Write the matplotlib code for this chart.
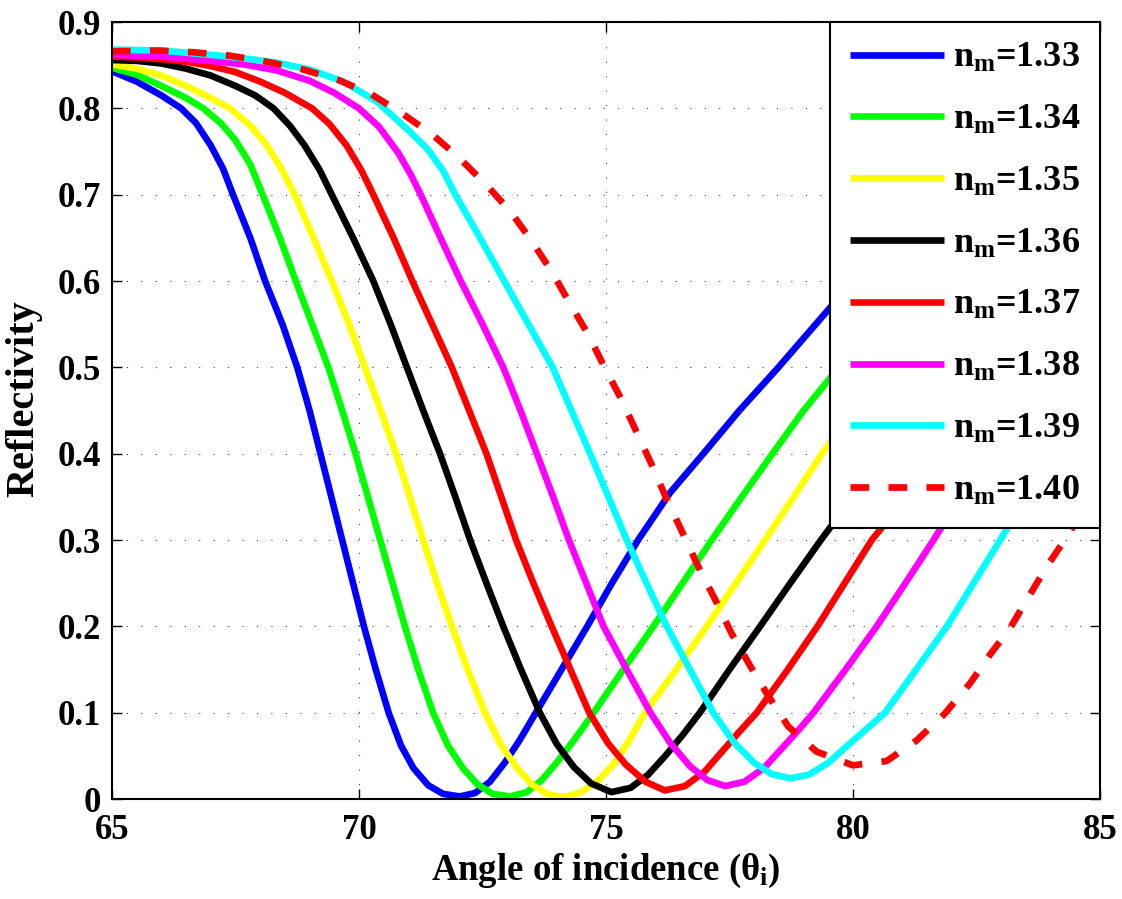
import matplotlib
matplotlib.use('Agg')
import matplotlib.pyplot as plt

plt.rcParams['font.family'] = ['Liberation Serif', 'DejaVu Serif']
plt.rcParams['font.weight'] = 'bold'
plt.rcParams['mathtext.fontset'] = 'custom'
plt.rcParams['mathtext.rm'] = 'Liberation Serif:bold'
plt.rcParams['mathtext.it'] = 'Liberation Serif:bold'
plt.rcParams['mathtext.bf'] = 'Liberation Serif:bold'

# reflectivity curves, one per medium index n_m
ang_133 = [65.0, 65.5, 66.0, 66.4, 66.7, 67.0, 67.25, 67.45, 67.8, 68.1, 68.45, 68.75, 69.0, 69.22,
           69.44, 69.66, 69.88, 70.1, 70.34, 70.6, 70.85, 71.1, 71.4, 71.7, 72.04, 72.35, 72.65,
           72.95, 73.25, 73.58, 74.1, 74.62, 75.12, 75.65, 76.3, 76.97, 77.7, 78.49, 79.67, 80.5,
           81.5, 82.5, 83.5, 84.3, 85.0]
ref_133 = [0.843, 0.831, 0.815, 0.800, 0.783, 0.757, 0.730, 0.700, 0.650, 0.600, 0.550, 0.500,
           0.450, 0.400, 0.350, 0.300, 0.250, 0.200, 0.150, 0.100, 0.062, 0.036, 0.016, 0.006,
           0.003, 0.007, 0.020, 0.042, 0.068, 0.100, 0.150, 0.200, 0.250, 0.300, 0.355, 0.400,
           0.450, 0.500, 0.578, 0.620, 0.668, 0.708, 0.745, 0.770, 0.793]

ang_134 = [65.0, 65.5, 66.0, 66.5, 66.85, 67.2, 67.5, 67.8, 68.05, 68.4, 68.72, 69.05, 69.38, 69.66,
           69.93, 70.18, 70.43, 70.68, 70.93, 71.2, 71.5, 71.8, 72.1, 72.4, 72.7, 73.06, 73.4, 73.7,
           74.0, 74.35, 74.75, 75.35, 75.96, 76.55, 77.14, 77.75, 78.37, 79.0, 79.67, 80.5, 81.5,
           82.5, 83.5, 84.3, 85.0]
ref_134 = [0.847, 0.839, 0.826, 0.812, 0.800, 0.783, 0.763, 0.735, 0.700, 0.650, 0.600, 0.550,
           0.500, 0.450, 0.400, 0.350, 0.300, 0.250, 0.200, 0.150, 0.100, 0.062, 0.036, 0.017,
           0.006, 0.003, 0.008, 0.022, 0.042, 0.068, 0.100, 0.150, 0.200, 0.250, 0.300, 0.350,
           0.400, 0.450, 0.497, 0.545, 0.598, 0.645, 0.688, 0.718, 0.743]

ang_135 = [65.0, 65.5, 66.0, 66.5, 67.0, 67.39, 67.8, 68.1, 68.4, 68.7, 69.08, 69.45, 69.8, 70.12,
           70.44, 70.75, 71.03, 71.3, 71.58, 71.88, 72.2, 72.55, 72.88, 73.2, 73.5, 73.8, 74.14,
           74.5, 74.85, 75.15, 75.45, 75.79, 76.42, 77.04, 77.63, 78.22, 78.8, 79.37, 80.0, 81.0,
           82.0, 83.0, 84.0, 85.0]
ref_135 = [0.851, 0.846, 0.838, 0.826, 0.812, 0.800, 0.780, 0.760, 0.733, 0.700, 0.650, 0.600,
           0.550, 0.500, 0.450, 0.400, 0.350, 0.300, 0.250, 0.200, 0.150, 0.100, 0.062, 0.036,
           0.017, 0.006, 0.002, 0.008, 0.022, 0.040, 0.066, 0.100, 0.150, 0.200, 0.250, 0.300,
           0.350, 0.400, 0.450, 0.520, 0.580, 0.630, 0.675, 0.710]

ang_136 = [65.0, 65.5, 66.0, 66.5, 67.0, 67.5, 67.9, 68.27, 68.6, 68.9, 69.2, 69.45, 69.88, 70.29,
           70.64, 70.97, 71.3, 71.64, 71.95, 72.25, 72.58, 72.92, 73.28, 73.66, 74.0, 74.35, 74.7,
           75.11, 75.5, 75.85, 76.2, 76.55, 76.9, 77.5, 78.12, 78.73, 79.35, 79.7, 80.5, 81.5, 82.5,
           83.5, 84.3, 85.0]
ref_136 = [0.856, 0.855, 0.852, 0.846, 0.838, 0.826, 0.815, 0.800, 0.780, 0.757, 0.729, 0.700,
           0.650, 0.600, 0.550, 0.500, 0.450, 0.400, 0.350, 0.300, 0.250, 0.200, 0.150, 0.100,
           0.064, 0.037, 0.018, 0.008, 0.013, 0.028, 0.050, 0.074, 0.100, 0.150, 0.200, 0.250,
           0.300, 0.327, 0.385, 0.455, 0.525, 0.592, 0.643, 0.685]

ang_137 = [65.0, 65.5, 66.0, 66.5, 67.0, 67.5, 68.0, 68.5, 69.05, 69.4, 69.75, 70.05, 70.29, 70.7,
           71.08, 71.48, 71.88, 72.23, 72.58, 72.88, 73.18, 73.53, 73.9, 74.28, 74.66, 75.05, 75.4,
           75.8, 76.19, 76.6, 77.0, 77.35, 77.7, 78.05, 78.68, 79.28, 79.83, 80.38, 80.55, 81.5,
           82.5, 83.5, 84.3, 85.0]
ref_137 = [0.860, 0.859, 0.857, 0.854, 0.849, 0.842, 0.831, 0.818, 0.800, 0.782, 0.757, 0.728,
           0.700, 0.650, 0.600, 0.550, 0.500, 0.450, 0.400, 0.350, 0.300, 0.250, 0.200, 0.150,
           0.100, 0.064, 0.040, 0.020, 0.010, 0.015, 0.032, 0.055, 0.078, 0.100, 0.150, 0.200,
           0.250, 0.300, 0.312, 0.385, 0.460, 0.535, 0.595, 0.650]

ang_138 = [65.0, 66.0, 67.0, 67.66, 68.33, 69.0, 69.5, 70.0, 70.4, 70.8, 71.05, 71.25, 71.65, 72.06,
           72.5, 72.92, 73.27, 73.6, 73.93, 74.25, 74.6, 74.95, 75.42, 75.9, 76.3, 76.7, 77.05,
           77.41, 77.8, 78.2, 78.55, 78.9, 79.2, 79.85, 80.48, 81.06, 81.63, 81.76, 82.5, 83.5,
           84.3, 85.0]
ref_138 = [0.862, 0.860, 0.855, 0.851, 0.844, 0.832, 0.818, 0.800, 0.779, 0.748, 0.723, 0.700,
           0.650, 0.600, 0.550, 0.500, 0.450, 0.400, 0.350, 0.300, 0.250, 0.200, 0.150, 0.100,
           0.065, 0.038, 0.022, 0.015, 0.020, 0.036, 0.058, 0.080, 0.100, 0.150, 0.200, 0.250,
           0.300, 0.312, 0.372, 0.452, 0.518, 0.580]

ang_139 = [65.0, 66.0, 67.0, 67.66, 68.33, 69.0, 69.68, 70.36, 71.03, 71.4, 71.71, 71.95, 72.45,
           72.94, 73.43, 73.92, 74.3, 74.68, 75.05, 75.42, 75.82, 76.23, 76.7, 77.17, 77.6, 78.0,
           78.35, 78.72, 79.1, 79.5, 79.85, 80.25, 80.65, 81.28, 81.9, 82.44, 82.98, 83.5, 84.0,
           84.5, 85.0]
ref_139 = [0.868, 0.867, 0.862, 0.858, 0.853, 0.845, 0.831, 0.808, 0.773, 0.752, 0.727, 0.700,
           0.650, 0.600, 0.550, 0.500, 0.450, 0.400, 0.350, 0.300, 0.250, 0.200, 0.150, 0.100,
           0.065, 0.042, 0.029, 0.024, 0.028, 0.042, 0.060, 0.080, 0.100, 0.150, 0.200, 0.250,
           0.300, 0.350, 0.398, 0.445, 0.488]

ang_140 = [65.0, 65.9, 66.65, 67.39, 68.13, 68.87, 69.58, 70.26, 70.9, 71.5, 72.04, 72.6, 73.06,
           73.5, 73.9, 74.27, 74.64, 74.98, 75.32, 75.62, 75.96, 76.23, 76.57, 76.87, 77.21, 77.54,
           77.91, 78.29, 78.69, 79.26, 80.0, 80.68, 81.29, 81.86, 82.37, 82.77, 83.18, 83.52, 83.92,
           84.33, 85.0]
ref_140 = [0.866, 0.867, 0.865, 0.861, 0.854, 0.845, 0.833, 0.816, 0.793, 0.769, 0.742, 0.710,
           0.681, 0.646, 0.611, 0.574, 0.538, 0.499, 0.462, 0.425, 0.383, 0.347, 0.306, 0.269,
           0.231, 0.192, 0.155, 0.119, 0.084, 0.055, 0.039, 0.044, 0.068, 0.099, 0.134, 0.167,
           0.198, 0.231, 0.269, 0.304, 0.365]

labels = ['1.33', '1.34', '1.35', '1.36', '1.37', '1.38', '1.39', '1.40']
colors = ['#0000ff', '#00ff00', '#ffff00', '#000000', '#ff0000', '#ff00ff', '#00ffff', '#ff0000']
xticks = [65, 70, 75, 80, 85]
yticks = [0, 0.1, 0.2, 0.3, 0.4, 0.5, 0.6, 0.7, 0.8, 0.9]
ytick_labels = ['0', '0.1', '0.2', '0.3', '0.4', '0.5', '0.6', '0.7', '0.8', '0.9']

curves = [(ang_133, ref_133), (ang_134, ref_134), (ang_135, ref_135), (ang_136, ref_136),
          (ang_137, ref_137), (ang_138, ref_138), (ang_139, ref_139), (ang_140, ref_140)]

fig = plt.figure(figsize=(11.22, 8.99), dpi=100)
ax = fig.add_axes([0.0998, 0.1112, 0.8806, 0.8643])

lw = 4.8
for i, (xa, ya) in enumerate(curves):
    lab = r'n$_\mathrm{m}$=' + labels[i]
    if i == len(curves) - 1:
        ax.plot(xa, ya, color=colors[i], lw=lw, linestyle=(0, (2.8, 2.9)),
                dash_capstyle='butt', label=lab)
    else:
        ax.plot(xa, ya, color=colors[i], lw=lw, solid_joinstyle='round',
                solid_capstyle='butt', label=lab)

ax.set_xlim(65, 85)
ax.set_ylim(0, 0.9)
ax.set_xticks(xticks)
ax.set_xticklabels([str(t) for t in xticks])
ax.set_yticks(yticks)
ax.set_yticklabels(ytick_labels)
ax.grid(True, color='0.25', linestyle=(0, (1, 12)), linewidth=0.8)
ax.tick_params(direction='in', top=True, right=True, length=7, width=1, labelsize=25)
ax.tick_params(axis='x', pad=11)
ax.tick_params(axis='y', pad=8)
for s in ax.spines.values():
    s.set_linewidth(1.5)

ax.set_xlabel(r'Angle of incidence (θ$_\mathrm{i}$)', fontsize=26.5, fontweight='bold', labelpad=3)
ax.set_ylabel('Reflectivity', fontsize=29, fontweight='bold')
ax.yaxis.set_label_coords(-0.07, 0.515)

leg = ax.legend(loc='upper right', bbox_to_anchor=(1, 1), borderaxespad=0, fancybox=False,
                edgecolor='k', framealpha=1, fontsize=26, handlelength=2.6,
                handletextpad=0.25, labelspacing=0.79, borderpad=0.55)
leg.get_frame().set_linewidth(1.5)

fig.savefig('out.png', dpi=100)
